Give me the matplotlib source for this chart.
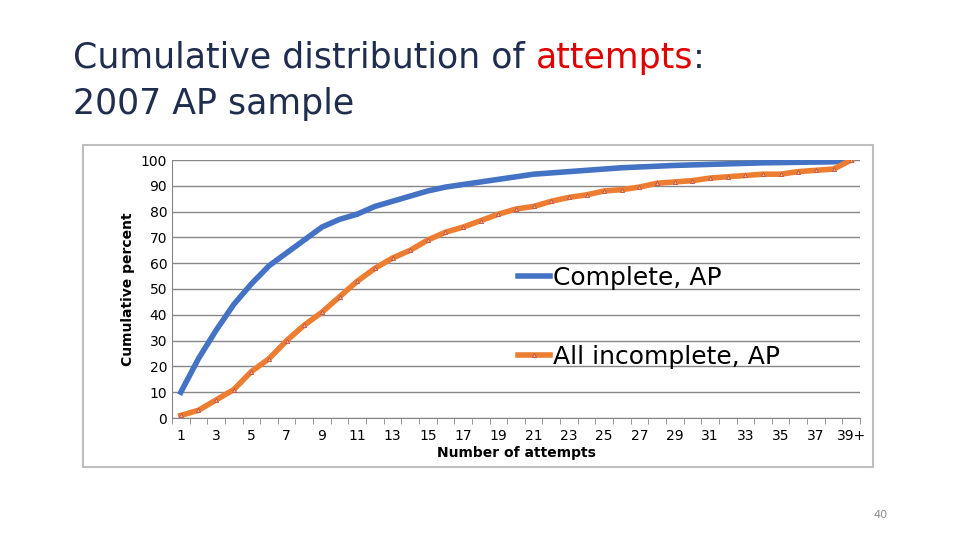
import matplotlib.pyplot as plt
from matplotlib.patches import Rectangle

# ---------- data ----------
categories = [str(i) for i in range(1, 39)] + ["39+"]
complete_ap = [10, 23, 34, 44, 52, 59, 64, 69, 74, 77, 79, 82, 84, 86, 88, 89.5,
               90.5, 91.5, 92.5, 93.5, 94.5, 95, 95.5, 96, 96.5, 97, 97.3, 97.6,
               97.9, 98.1, 98.3, 98.5, 98.7, 98.9, 99, 99.1, 99.2, 99.3, 100]
incomplete_ap = [1, 3, 7, 11, 18, 23, 30, 36, 41, 47, 53, 58, 62, 65, 69, 72, 74,
                 76.5, 79, 81, 82, 84, 85.5, 86.5, 88, 88.5, 89.5, 91, 91.5, 92,
                 93, 93.5, 94, 94.5, 94.5, 95.5, 96, 96.5, 100]
yticks = list(range(0, 101, 10))

BLUE = "#4472c4"
ORANGE = "#ed7d31"
TITLE_FONT = ["Liberation Sans Narrow", "DejaVu Sans"]

fig = plt.figure(figsize=(9.6, 5.4), dpi=100)

# title, drawn in pieces so "attempts" can be red
t1 = fig.text(73 / 960, 1 - 58 / 540, "Cumulative distribution of ", fontsize=25,
              family=TITLE_FONT, color="#1f2d4f", va="center")
fig.canvas.draw()
x2 = t1.get_window_extent().x1 / 960
t2 = fig.text(x2, 1 - 58 / 540, "attempts", fontsize=25,
              family=TITLE_FONT, color="#e00000", va="center")
fig.canvas.draw()
x3 = t2.get_window_extent().x1 / 960
fig.text(x3, 1 - 58 / 540, ":", fontsize=25, family=TITLE_FONT, color="#1f2d4f", va="center")
fig.text(73 / 960, 1 - 104 / 540, "2007 AP sample", fontsize=25,
         family=TITLE_FONT, color="#1f2d4f", va="center")

# chart frame
fig.patches.append(Rectangle((83 / 960, 1 - 467 / 540), 790 / 960, 322 / 540,
                             transform=fig.transFigure, fill=False,
                             edgecolor="#bfbfbf", linewidth=1.5))

ax = fig.add_axes([172 / 960, 122 / 540, 688 / 960, 258 / 540])
x = list(range(len(categories)))
ax.plot(x, complete_ap, color=BLUE, linewidth=4, label="Complete, AP")
ax.plot(x, incomplete_ap, color=ORANGE, linewidth=4, marker="^", markersize=3,
        markerfacecolor="#f4b183", markeredgecolor="#c0504d", markeredgewidth=0.6,
        label="All incomplete, AP")

ax.set_ylim(0, 100)
ax.set_xlim(-0.5, len(categories) - 0.5)
ax.set_yticks(yticks)
ax.tick_params(axis="y", length=0, labelsize=10)
ax.set_xticks(x[::2])
ax.set_xticklabels(categories[::2], fontsize=10)
ax.set_xticks([i - 0.5 for i in range(len(categories) + 1)], minor=True)
ax.tick_params(axis="x", which="major", length=0, pad=8)
ax.tick_params(axis="x", which="minor", length=4, color="#868686")
ax.grid(axis="y", color="#868686", linewidth=1)
ax.set_axisbelow(True)
for s in ["top", "right"]:
    ax.spines[s].set_visible(False)
ax.spines["left"].set_color("#868686")
ax.spines["bottom"].set_color("#868686")
ax.set_ylabel("Cumulative percent", fontsize=10, fontweight="bold")
ax.set_xlabel("Number of attempts", fontsize=10, fontweight="bold", labelpad=2)

ax.legend(loc="center left", bbox_to_anchor=(0.47, 0.39), frameon=False,
          fontsize=18, handlelength=1.3, handletextpad=0.1, labelspacing=2.2)

fig.text(880 / 960, 1 - 515 / 540, "40", fontsize=8, color="#8c8c8c", ha="center", va="center")

fig.savefig("out.png", dpi=100)
